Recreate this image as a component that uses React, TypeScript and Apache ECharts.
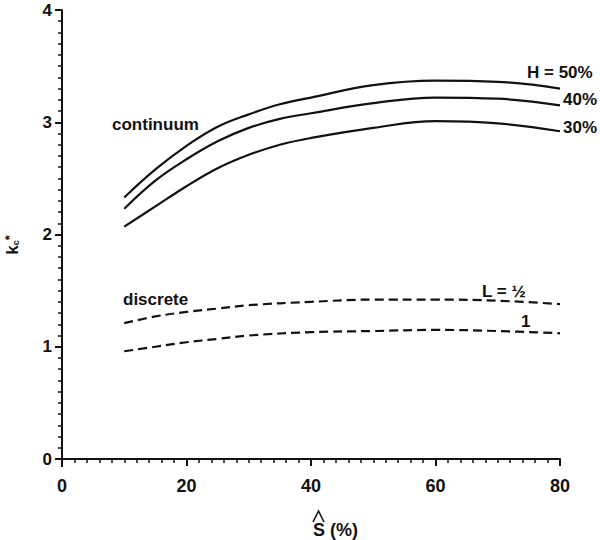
import React, { useEffect, useRef } from "react";
import * as echarts from "echarts";

// S-hat (%) values and k* values
const continuumS = [10, 15, 20, 25, 30, 35, 40, 50, 60, 70, 80];
const h50 = [2.33, 2.58, 2.79, 2.96, 3.07, 3.16, 3.22, 3.33, 3.37, 3.36, 3.3];
const h40 = [2.23, 2.48, 2.67, 2.83, 2.95, 3.03, 3.08, 3.17, 3.22, 3.21, 3.15];
const h30 = [2.07, 2.25, 2.43, 2.59, 2.71, 2.8, 2.86, 2.95, 3.01, 2.99, 2.92];

const discreteS = [10, 15, 20, 25, 30, 40, 50, 60, 70, 80];
const lHalf = [1.21, 1.27, 1.31, 1.34, 1.37, 1.4, 1.42, 1.42, 1.41, 1.38];
const lOne = [0.96, 1.0, 1.04, 1.07, 1.1, 1.13, 1.14, 1.15, 1.14, 1.12];

const xTicks = [0, 20, 40, 60, 80];
const yTicks = [0, 1, 2, 3, 4];

const FONT = '"Liberation Sans", Arial, Helvetica, sans-serif';
const INK = "#111";

const zip = (xs: number[], ys: number[]) => xs.map((x, i) => [x, ys[i]]);

export default function App() {
  const ref = useRef<HTMLDivElement>(null);
  useEffect(() => {
    if (!ref.current) return;
    const chart = echarts.init(ref.current, undefined, { renderer: "svg" });
    const solid = { color: INK, width: 2.2, type: "solid" as const };
    const dashed = { color: INK, width: 2.2, type: [9, 5] as any };
    const txt = (text: string, x: number, y: number, size = 17) => ({
      type: "text",
      x,
      y,
      style: {
        text,
        fill: INK,
        font: `bold ${size}px ${FONT}`,
        textVerticalAlign: "middle",
        verticalAlign: "middle",
      },
    });
    chart.setOption({
      animation: false,
      backgroundColor: "#fff",
      grid: { left: 62, right: 40, top: 10, bottom: 81 },
      xAxis: {
        type: "value",
        min: xTicks[0],
        max: xTicks[xTicks.length - 1],
        interval: 20,
        offset: 6,
        axisLine: { lineStyle: { color: INK, width: 2 } },
        axisTick: { length: 7, lineStyle: { color: INK, width: 2 } },
        minorTick: { show: true, splitNumber: 10, length: 4, lineStyle: { color: INK, width: 1.5 } },
        splitLine: { show: false },
        axisLabel: { color: INK, fontFamily: FONT, fontWeight: "bold", fontSize: 18, margin: 12 },
      },
      yAxis: {
        type: "value",
        min: yTicks[0],
        max: yTicks[yTicks.length - 1],
        interval: 1,
        axisLine: { show: true, lineStyle: { color: INK, width: 2 } },
        axisTick: { show: true, length: 7, lineStyle: { color: INK, width: 2 } },
        minorTick: { show: true, splitNumber: 10, length: 4, lineStyle: { color: INK, width: 1.5 } },
        splitLine: { show: false },
        axisLabel: { color: INK, fontFamily: FONT, fontWeight: "bold", fontSize: 17, margin: 10 },
      },
      series: [
        { type: "line", data: zip(continuumS, h50), smooth: 0.4, showSymbol: false, lineStyle: solid },
        { type: "line", data: zip(continuumS, h40), smooth: 0.4, showSymbol: false, lineStyle: solid },
        { type: "line", data: zip(continuumS, h30), smooth: 0.4, showSymbol: false, lineStyle: solid },
        { type: "line", data: zip(discreteS, lHalf), smooth: 0.4, showSymbol: false, lineStyle: dashed },
        { type: "line", data: zip(discreteS, lOne), smooth: 0.4, showSymbol: false, lineStyle: dashed },
      ],
      graphic: [
        { type: "line", shape: { x1: 62, y1: 458, x2: 62, y2: 467 }, style: { stroke: INK, lineWidth: 2 } },
        txt("continuum", 112, 124),
        txt("discrete", 123, 299),
        txt("H = 50%", 527, 72),
        txt("40%", 563, 99),
        txt("30%", 563, 127),
        txt("L = ½", 482, 291),
        txt("1", 521, 321),
        txt("S (%)", 313, 530, 18),
        {
          type: "polyline",
          shape: { points: [[313, 522], [318.5, 511], [324, 522]] },
          style: { stroke: INK, lineWidth: 1.6, fill: "none" },
        },
        {
          type: "text",
          x: 12,
          y: 245,
          rotation: Math.PI / 2,
          style: {
            text: "{k|k}{c|c}{s|*}",
            align: "center",
            verticalAlign: "middle",
            fill: INK,
            rich: {
              k: { font: `bold 17px ${FONT}`, fill: INK },
              c: { font: `bold 9px ${FONT}`, fill: INK, padding: [8, 0, 0, 0] },
              s: { font: `bold 13px ${FONT}`, fill: INK, padding: [0, 0, 6, 0] },
            },
          },
        },
      ],
    });
    return () => chart.dispose();
  }, []);
  return (
    <div
      ref={ref}
      style={{ position: "absolute", left: 0, top: 0, width: 600, height: 540, background: "#fff" }}
    />
  );
}
